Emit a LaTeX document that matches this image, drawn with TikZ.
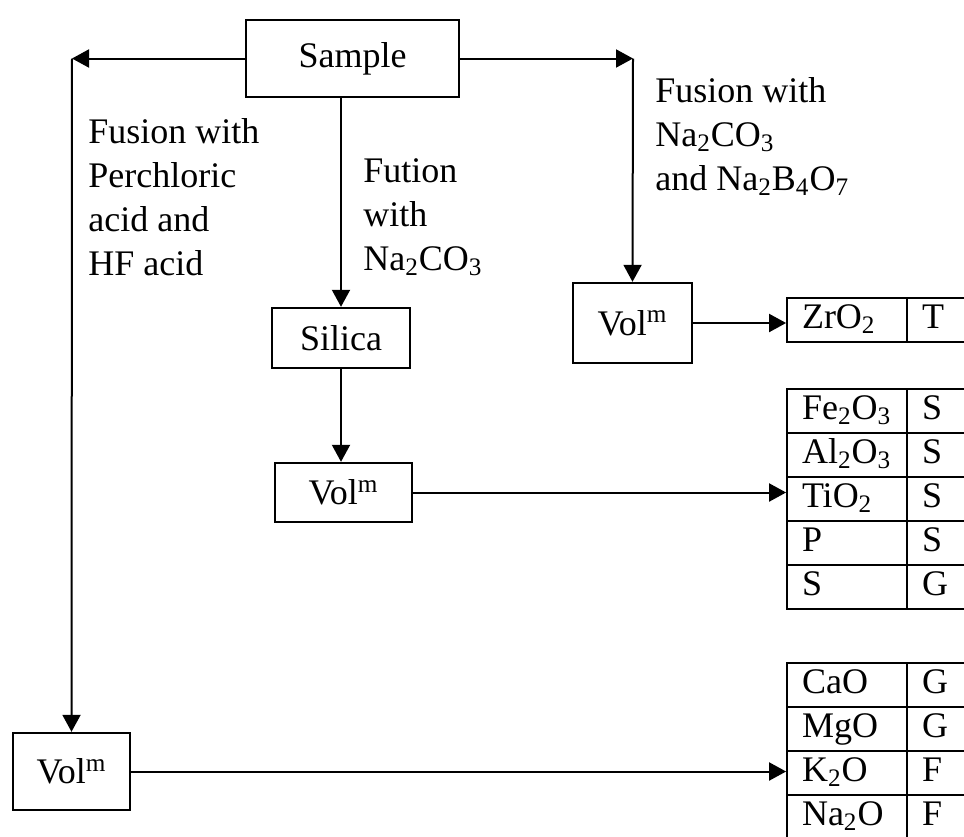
\documentclass[tikz,border=0pt]{standalone}
\usepackage{fontspec}
\setmainfont{Liberation Serif}
\usetikzlibrary{arrows.meta}

\begin{document}
\begin{tikzpicture}[x=0.5pt,y=-0.5pt,
    font=\fontsize{18}{22}\selectfont,
    box/.style={draw, line width=1.2pt, inner sep=0pt},
    cellname/.style={draw, line width=0.9pt, inner xsep=7.5pt, inner ysep=0pt,
        text width=45pt, minimum height=22pt, text height=13pt, text depth=5pt, align=left},
    cellcode/.style={cellname, text width=25pt},
    note/.style={anchor=north west, inner sep=0pt, align=left},
    flow/.style={line width=1pt, -{Triangle[length=8.5pt,width=9pt]}}]
    \useasboundingbox (0,0) rectangle (964,836);
    \clip (0,0) rectangle (964,836);

    \node[box, minimum width=106.5pt, minimum height=38.5pt] (sample) at (352.5,58.5) {Sample};
    \node[box, minimum width=69pt, minimum height=30pt] (silica) at (341,338) {Silica};
    \node[box, minimum width=59.5pt, minimum height=40pt] (volC) at (632.5,323) {Vol\textsuperscript{m}};
    \node[box, minimum width=68.5pt, minimum height=29.5pt] (volB) at (343.5,492.5) {Vol\textsuperscript{m}};
    \node[box, minimum width=58.5pt, minimum height=38.5pt] (volA) at (71.5,771.5) {Vol\textsuperscript{m}};

    \foreach \y/\name/\code/\id in {320/ZrO\textsubscript{2}/T/zr,
        411/Fe\textsubscript{2}O\textsubscript{3}/S/fe, 455/Al\textsubscript{2}O\textsubscript{3}/S/al,
        499/TiO\textsubscript{2}/S/ti, 543/P/S/p, 587/S/G/s,
        685/CaO/G/ca, 729/MgO/G/mg, 773/K\textsubscript{2}O/F/k, 817/Na\textsubscript{2}O/F/na} {
        \node[cellname] (\id) at (847,\y) {\name};
        \node[cellcode] (\id code) at (947,\y) {\code};
    }

    \node[note] (acidnote) at (88,118) {Fusion with\\Perchloric\\acid and\\HF acid};
    \node[note] (carbnote) at (363,158) {Fution\\with\\Na\textsubscript{2}CO\textsubscript{3}};
    \node[note] (boranote) at (655,77) {Fusion with\\Na\textsubscript{2}CO\textsubscript{3}\\and Na\textsubscript{2}B\textsubscript{4}O\textsubscript{7}};

    \coordinate (cornerL) at (72,58.5);
    \coordinate (cornerR) at (633,58.5);
    \draw[flow] (sample.west) -- (cornerL);
    \draw[flow] (cornerL) -- (volA.north);
    \draw[flow] (sample.east) -- (cornerR);
    \draw[flow] (cornerR) -- (volC.north);
    \draw[flow] (sample.south -| silica.north) -- (silica.north);
    \draw[flow] (silica.south) -- (silica.south |- volB.north);
    \draw[flow] (volC.east) -- (volC.east -| zr.west);
    \draw[flow] (volB.east) -- (volB.east -| ti.west);
    \draw[flow] (volA.east) -- (volA.east -| k.west);
\end{tikzpicture}
\end{document}
